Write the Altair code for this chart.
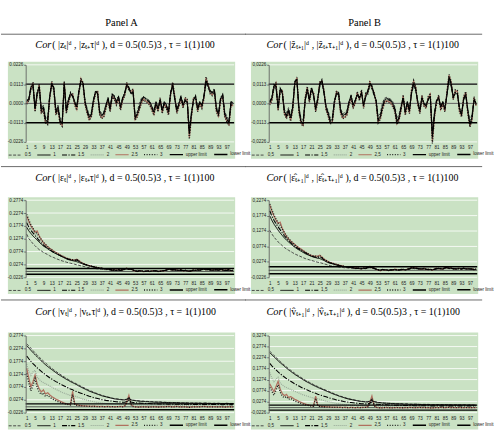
import altair as alt
import pandas as pd

LAGS = list(range(1, 101))
XTICKS = [1, 5, 9, 13, 17, 21, 25, 29, 33, 37, 41, 45, 49, 53, 57, 61, 65, 69, 73, 77, 81, 85, 89, 93, 97]
NAMES_A = ["0.5", "1", "1.5", "2", "2.5", "3", "upper limit", "lower limit"]
NAMES_B = ["0,5", "1", "1,5", "2", "2,5", "3", "upper limit", "lower limit"]
LIMITS = [0.0113, -0.0113]
YT_1 = [-0.0226, -0.0113, 0.0, 0.0113, 0.0226]
YT_2A = [-0.0226, 0.0274, 0.0774, 0.1274, 0.1774, 0.2274, 0.2774]
YT_2B = [-0.0226, 0.0274, 0.0774, 0.1274, 0.1774, 0.2274]
YT_3A = [-0.0226, 0.0274, 0.0774, 0.1274, 0.1774, 0.2274, 0.2774]
YT_3B = [-0.0226, 0.0274, 0.0774, 0.1274, 0.1774, 0.2274, 0.2774, 0.3274]

# ---------- Row 1, panel A (units 1e-4) ----------
A1_05 = [10, 30, 80, 95, -20, 50, 85, -30, -10, -80,
         -95, 30, 100, 80, -40, -10, -85, -100, 100, -30,
         25, 50, 40, 15, -10, 60, 120, 105, 15, -30,
         -70, -50, 25, 60, 55, -40, -60, -50, -5, 25,
         -20, 45, 35, 15, 35, -15, 25, 50, 95, 80,
         55, 60, -65, -50, 0, 30, 35, 30, 25, 15,
         -15, -40, 10, -25, 20, -30, 10, -5, -40, 50,
         95, 30, -30, 5, 35, -5, 20, 10, -145, -50,
         20, 35, -20, 10, -5, 35, 115, 90, 60, 55,
         70, -20, -50, 25, 45, -50, -75, -100, 10, 5]
A1_1 = [15, 25, 95, 110, -30, 60, 100, -40, -20, -95,
        -110, 40, 115, 90, -50, -20, -100, -120, 115, -40,
        20, 60, 45, 10, -20, 70, 135, 120, 10, -40,
        -80, -60, 20, 70, 60, -50, -70, -60, -10, 30,
        -30, 50, 40, 10, 40, -20, 30, 60, 110, 90,
        60, 70, -80, -60, -20, 20, 40, 30, 20, 10,
        -20, -50, 10, -30, 20, -40, 10, -10, -50, 60,
        110, 30, -40, 0, 40, -10, 20, 10, -170, -60,
        20, 40, -30, 10, -10, 40, 130, 100, 70, 60,
        80, -30, -60, 30, 50, -60, -90, -115, 10, 0]
A1_15 = [20, 20, 100, 105, -35, 65, 95, -45, -25, -100,
         -105, 45, 110, 95, -55, -25, -105, -115, 110, -45,
         15, 65, 40, 5, -25, 75, 130, 125, 5, -45,
         -85, -65, 15, 75, 55, -55, -75, -55, -15, 35,
         -35, 55, 45, 5, 45, -25, 35, 65, 105, 95,
         55, 65, -85, -65, -25, 15, 35, 25, 15, 5,
         -25, -55, 5, -35, 15, -45, 5, -15, -55, 65,
         105, 25, -45, -5, 45, -15, 15, 5, -180, -65,
         15, 45, -35, 5, -15, 45, 135, 105, 75, 65,
         85, -35, -65, 35, 55, -65, -95, -110, 5, -5]
A1_2 = [5, 25, 90, 115, -40, 55, 105, -50, -30, -105,
        -115, 35, 120, 85, -60, -30, -110, -125, 120, -50,
        10, 55, 50, 0, -30, 65, 140, 120, 0, -50,
        -90, -70, 10, 65, 65, -60, -80, -70, -20, 25,
        -40, 45, 35, 0, 35, -30, 25, 55, 115, 85,
        65, 75, -90, -70, -30, 10, 30, 20, 10, 0,
        -30, -60, 0, -40, 25, -50, 0, -20, -60, 55,
        115, 35, -50, -10, 35, -20, 25, 15, -190, -70,
        25, 35, -40, 5, -20, 35, 140, 105, 65, 55,
        75, -40, -70, 25, 45, -70, -100, -120, 0, -10]
A1_25 = [0, 20, 85, 120, -45, 50, 110, -55, -35, -110,
         -120, 30, 125, 80, -65, -35, -115, -130, 125, -55,
         5, 50, 55, -5, -35, 60, 145, 115, -5, -55,
         -95, -75, 5, 60, 70, -65, -85, -75, -25, 20,
         -45, 40, 30, -5, 30, -35, 20, 50, 120, 80,
         70, 80, -95, -75, -35, 5, 25, 15, 5, -5,
         -35, -65, -5, -45, 30, -55, -5, -25, -65, 50,
         120, 40, -55, -15, 30, -25, 30, 20, -200, -75,
         30, 30, -45, 0, -25, 30, 150, 110, 60, 50,
         70, -45, -75, 20, 40, -75, -105, -125, -5, -15]
A1_3 = [-5, 15, 80, 125, -50, 45, 115, -60, -40, -115,
        -125, 25, 130, 75, -70, -40, -120, -135, 130, -60,
        0, 45, 60, -10, -40, 55, 150, 110, -10, -60,
        -100, -80, 0, 55, 75, -70, -90, -80, -30, 15,
        -50, 35, 25, -10, 25, -40, 15, 45, 125, 75,
        75, 85, -100, -80, -40, 0, 20, 10, 0, -10,
        -40, -70, -10, -50, 35, -60, -10, -30, -70, 45,
        125, 45, -60, -20, 25, -30, 35, 25, -210, -80,
        35, 25, -50, -5, -30, 25, 155, 115, 55, 45,
        65, -50, -80, 15, 35, -80, -110, -130, -10, -20]

# ---------- Row 1, panel B (units 1e-4) ----------
B1_05 = [15, 35, 90, 85, -15, 75, 55, -35, -55, -25,
         -70, -10, 110, 120, -20, -90, -95, 20, 70, 25,
         80, 40, -20, 30, 95, 120, 55, -10, -45, -85,
         -80, 15, 50, 55, -30, -60, -55, -40, 10, 40,
         -5, 20, 45, 30, 55, -5, 35, 60, 95, 85,
         45, 25, -75, -60, 0, 30, 35, 30, 25, 10,
         -20, -85, -65, -10, 30, -40, 10, -30, 55, 100,
         70, 15, -30, 30, 5, -5, 20, 35, -160, -50,
         20, 30, -15, 10, -20, 45, 130, 95, 40, 55,
         50, -20, -50, 20, 45, -30, -100, -65, 20, 5]
B1_1 = [10, 35, 105, 95, -25, 85, 60, -45, -70, -35,
        -85, -20, 125, 135, -30, -105, -115, 20, 80, 25,
        90, 45, -30, 30, 110, 135, 60, -20, -55, -100,
        -95, 15, 55, 60, -40, -70, -65, -50, 10, 45,
        -10, 20, 50, 30, 60, -10, 40, 70, 110, 100,
        50, 20, -95, -75, -20, 20, 30, 25, 20, 0,
        -30, -105, -80, -20, 30, -50, 10, -40, 60, 115,
        80, 10, -40, 30, 0, -10, 20, 40, -190, -60,
        20, 30, -20, 10, -30, 50, 150, 110, 40, 60,
        55, -30, -60, 20, 50, -40, -120, -80, 20, 0]
B1_15 = [5, 30, 110, 100, -30, 90, 65, -50, -75, -40,
         -90, -25, 130, 140, -35, -110, -120, 15, 85, 20,
         95, 50, -35, 25, 115, 140, 65, -25, -60, -105,
         -100, 10, 60, 65, -45, -75, -70, -55, 5, 50,
         -15, 15, 55, 35, 65, -15, 45, 75, 115, 105,
         55, 15, -100, -80, -25, 15, 25, 20, 15, -5,
         -35, -110, -85, -25, 35, -55, 5, -45, 65, 120,
         85, 5, -45, 35, -5, -15, 25, 45, -200, -65,
         15, 35, -25, 5, -35, 55, 155, 115, 35, 65,
         60, -35, -65, 25, 55, -45, -125, -85, 25, -5]
B1_2 = [0, 25, 100, 110, -35, 80, 70, -55, -80, -45,
        -95, -30, 120, 145, -45, -110, -125, 25, 90, 15,
        85, 55, -40, 20, 120, 135, 70, -30, -65, -110,
        -105, 5, 65, 55, -50, -80, -75, -60, 0, 40,
        -20, 10, 60, 25, 70, -20, 50, 65, 120, 95,
        60, 10, -105, -85, -30, 10, 20, 15, 10, -10,
        -40, -115, -90, -30, 40, -60, 0, -50, 70, 125,
        90, 0, -50, 40, -10, -20, 30, 50, -210, -70,
        10, 40, -30, 0, -40, 60, 160, 120, 30, 70,
        65, -40, -70, 30, 60, -50, -130, -90, 30, -10]
B1_25 = [-5, 20, 95, 120, -40, 75, 75, -60, -85, -50,
         -100, -35, 115, 150, -50, -115, -130, 30, 95, 10,
         80, 60, -45, 15, 125, 130, 75, -35, -70, -115,
         -110, 0, 70, 50, -55, -85, -80, -65, -5, 35,
         -25, 5, 65, 20, 75, -25, 55, 60, 125, 90,
         65, 5, -110, -90, -35, 5, 15, 10, 5, -15,
         -45, -120, -95, -35, 45, -65, -5, -55, 75, 130,
         95, -5, -55, 45, -15, -25, 35, 55, -225, -75,
         5, 45, -35, -5, -45, 65, 165, 125, 25, 75,
         70, -45, -75, 35, 65, -55, -135, -95, 35, -15]
B1_3 = [-10, 15, 90, 125, -45, 70, 80, -65, -90, -55,
        -105, -40, 110, 155, -55, -120, -135, 35, 100, 5,
        75, 65, -50, 10, 130, 125, 80, -40, -75, -120,
        -115, -5, 75, 45, -60, -90, -85, -70, -10, 30,
        -30, 0, 70, 15, 80, -30, 60, 55, 130, 85,
        70, 0, -115, -95, -40, 0, 10, 5, 0, -20,
        -50, -125, -100, -40, 50, -70, -10, -60, 80, 135,
        100, -10, -60, 50, -20, -30, 40, 60, -235, -80,
        0, 50, -40, -10, -50, 70, 170, 130, 20, 80,
        75, -50, -80, 40, 70, -60, -140, -100, 40, -20]

# ---------- Row 2, panel A (units 1e-3) ----------
A2_05 = [145, 128, 118, 108, 100, 92, 85, 80, 74, 70,
         66, 61, 57, 54, 50, 47, 44, 41, 39, 36,
         34, 32, 30, 28, 26, 24, 22, 20, 18, 16,
         15, 13, 12, 11, 10, 9, 8, 7, 7, 6,
         5, 4, 5, 3, 5, 4, 6, 7, 9, 8,
         8, 5, 2, 1, 2, 1, 0, 1, 1, 0,
         1, 2, 1, 0, 1, 2, 2, 4, 7, 6,
         5, 6, 4, 3, 5, 3, 3, 2, 1, 2,
         4, 3, 5, 4, 7, 7, 6, 7, 5, 4,
         5, 6, 4, 6, 5, 3, 4, 5, 2, 3]
A2_1 = [172, 158, 148, 138, 130, 122, 114, 106, 99, 94,
        89, 83, 78, 73, 69, 65, 61, 57, 53, 49,
        46, 44, 42, 40, 38, 35, 32, 29, 26, 24,
        22, 20, 18, 16, 14, 13, 12, 11, 10, 9,
        7, 5, 6, 4, 6, 5, 7, 8, 11, 9,
        10, 6, 2, 1, 3, 2, 0, 1, 2, 0,
        1, 3, 2, 0, 1, 2, 3, 5, 9, 8,
        6, 7, 5, 4, 6, 3, 4, 2, 1, 3,
        5, 4, 6, 5, 8, 9, 7, 8, 6, 5,
        6, 7, 5, 8, 6, 4, 5, 6, 3, 4]
A2_15 = [190, 172, 160, 150, 140, 130, 120, 111, 103, 96,
         90, 84, 79, 74, 70, 66, 62, 58, 55, 51,
         48, 46, 44, 42, 45, 40, 34, 30, 27, 25,
         22, 20, 18, 16, 15, 13, 12, 11, 10, 9,
         8, 6, 5, 5, 7, 4, 6, 9, 12, 10,
         9, 5, 3, 0, 2, 3, 1, 0, 2, 1,
         2, 2, 3, 1, 0, 3, 4, 6, 10, 7,
         7, 6, 6, 3, 5, 4, 3, 3, 2, 2,
         6, 5, 5, 6, 7, 10, 8, 7, 7, 4,
         7, 6, 6, 7, 7, 5, 4, 7, 4, 3]
A2_2 = [205, 185, 170, 158, 148, 138, 126, 116, 107, 100,
        93, 87, 81, 76, 72, 67, 63, 59, 55, 51,
        48, 46, 44, 43, 46, 41, 35, 31, 28, 25,
        23, 21, 19, 17, 15, 13, 12, 11, 10, 9,
        6, 7, 6, 3, 5, 6, 8, 7, 10, 10,
        11, 7, 1, 2, 2, 1, -1, 2, 1, 1,
        0, 4, 1, 1, 2, 1, 2, 4, 8, 9,
        5, 8, 4, 5, 5, 4, 5, 1, 2, 4,
        4, 5, 7, 4, 9, 8, 8, 9, 5, 6,
        5, 8, 4, 9, 5, 5, 6, 5, 4, 5]
A2_25 = [215, 195, 178, 165, 152, 158, 138, 124, 112, 104,
         96, 90, 85, 79, 74, 70, 65, 60, 56, 52,
         49, 46, 45, 44, 48, 42, 36, 32, 28, 25,
         22, 20, 18, 16, 15, 13, 12, 11, 10, 9,
         9, 5, 7, 4, 7, 5, 6, 10, 13, 8,
         11, 4, 2, -1, 3, 2, -1, 0, 3, -1,
         2, 3, 2, -1, 2, 3, 2, 6, 11, 7,
         6, 7, 6, 3, 7, 2, 4, 3, 0, 2,
         6, 3, 6, 6, 9, 10, 6, 9, 6, 6,
         7, 6, 6, 8, 5, 5, 6, 7, 2, 5]
A2_3 = [222, 200, 182, 168, 155, 148, 136, 124, 114, 105,
        97, 90, 84, 78, 73, 68, 64, 60, 56, 52,
        49, 47, 46, 45, 47, 42, 36, 32, 28, 25,
        23, 21, 19, 17, 15, 14, 12, 11, 10, 9,
        8, 4, 7, 5, 6, 6, 7, 9, 12, 9,
        10, 6, 3, 0, 4, 1, 0, 1, 3, 0,
        2, 2, 3, 0, 1, 3, 3, 5, 10, 8,
        7, 6, 5, 4, 7, 3, 5, 2, 1, 3,
        5, 4, 7, 5, 8, 10, 7, 8, 7, 5,
        6, 7, 6, 8, 6, 5, 5, 6, 3, 4]

# ---------- Row 2, panel B (units 1e-3) ----------
B2_05 = [130, 118, 108, 100, 92, 86, 80, 74, 69, 65,
         61, 57, 53, 50, 47, 44, 41, 38, 36, 34,
         32, 30, 28, 26, 25, 23, 21, 19, 17, 15,
         14, 13, 12, 11, 10, 9, 8, 8, 7, 7,
         6, 5, 6, 5, 4, 6, 5, 7, 8, 7,
         5, 3, 1, 0, 1, 2, 1, 0, 1, 1,
         2, 1, 0, 1, 2, 1, 2, 3, 5, 6,
         4, 5, 3, 4, 4, 3, 2, 2, 1, 3,
         4, 5, 4, 3, 6, 7, 5, 6, 4, 3,
         4, 5, 3, 5, 4, 3, 4, 3, 2, 3]
B2_1 = [177, 162, 150, 140, 130, 121, 113, 105, 98, 92,
        86, 80, 75, 70, 66, 62, 58, 54, 51, 48,
        45, 43, 41, 39, 38, 35, 32, 28, 25, 23,
        21, 19, 17, 15, 14, 13, 12, 11, 10, 9,
        8, 6, 7, 6, 5, 7, 6, 8, 10, 9,
        6, 4, 1, 0, 2, 2, 1, -1, 1, 2,
        3, 1, 0, 2, 3, 1, 3, 4, 7, 8,
        6, 6, 4, 5, 5, 3, 2, 3, 1, 4,
        5, 6, 5, 4, 7, 9, 6, 7, 5, 4,
        5, 6, 4, 6, 5, 4, 5, 3, 2, 4]
B2_15 = [193, 175, 162, 151, 141, 131, 121, 112, 104, 97,
         90, 84, 78, 73, 69, 65, 61, 57, 53, 49,
         46, 44, 42, 41, 44, 40, 34, 30, 26, 24,
         22, 20, 18, 16, 14, 13, 12, 11, 10, 9,
         9, 7, 6, 7, 6, 6, 7, 9, 11, 8,
         7, 3, 2, -1, 3, 1, 2, 0, 2, 1,
         2, 2, 1, 3, 2, 2, 4, 5, 8, 7,
         7, 5, 5, 4, 6, 4, 3, 2, 2, 3,
         6, 5, 6, 5, 8, 8, 7, 6, 6, 5,
         6, 5, 5, 7, 4, 5, 4, 4, 3, 3]
B2_2 = [200, 182, 168, 156, 146, 136, 125, 115, 106, 99,
        92, 86, 80, 75, 70, 66, 62, 58, 54, 50,
        47, 45, 43, 42, 46, 42, 35, 31, 27, 25,
        22, 20, 18, 16, 15, 13, 12, 11, 10, 9,
        7, 8, 7, 5, 7, 5, 8, 7, 12, 10,
        5, 5, 0, 1, 1, 3, 0, 0, 0, 2,
        3, 0, 1, 2, 4, 0, 2, 5, 7, 9,
        5, 7, 3, 6, 4, 4, 3, 2, 0, 5,
        4, 7, 5, 5, 6, 10, 7, 8, 4, 6,
        4, 7, 3, 6, 6, 3, 6, 4, 3, 5]
B2_25 = [212, 192, 176, 163, 152, 156, 136, 122, 110, 102,
         95, 89, 84, 78, 73, 69, 64, 59, 55, 51,
         48, 46, 46, 45, 49, 43, 37, 32, 28, 25,
         23, 21, 19, 17, 15, 14, 12, 11, 10, 9,
         10, 6, 8, 5, 5, 8, 6, 10, 13, 8,
         8, 3, 1, -2, 2, 1, 0, -1, 2, 0,
         4, 2, 0, 3, 2, 2, 3, 6, 9, 7,
         8, 6, 4, 3, 7, 2, 3, 3, 0, 4,
         7, 5, 6, 4, 9, 9, 6, 8, 6, 4,
         6, 6, 5, 7, 5, 6, 5, 5, 2, 4]
B2_3 = [215, 196, 180, 166, 154, 146, 134, 122, 112, 104,
        96, 89, 83, 77, 72, 67, 63, 59, 55, 51,
        48, 47, 46, 45, 48, 42, 36, 32, 28, 25,
        23, 21, 19, 17, 15, 14, 12, 11, 10, 9,
        9, 7, 7, 6, 6, 7, 7, 9, 11, 9,
        7, 4, 2, 0, 2, 2, 1, 0, 1, 1,
        3, 1, 1, 2, 3, 1, 3, 5, 8, 8,
        7, 6, 4, 5, 6, 3, 3, 3, 1, 4,
        6, 6, 5, 5, 8, 9, 7, 7, 5, 5,
        5, 6, 4, 6, 5, 5, 5, 4, 2, 4]

# ---------- Row 3, panel A (units 1e-3) ----------
A3_05 = [245, 237, 228, 219, 210, 202, 193, 186, 178, 171,
         164, 157, 150, 144, 138, 132, 127, 121, 116, 111,
         106, 102, 97, 93, 89, 85, 80, 76, 72, 68,
         64, 61, 57, 54, 51, 48, 45, 42, 40, 38,
         36, 34, 32, 31, 30, 29, 28, 28, 30, 34,
         28, 26, 25, 24, 23, 22, 22, 21, 21, 20,
         20, 19, 19, 18, 19, 18, 18, 17, 17, 17,
         17, 16, 17, 16, 16, 15, 16, 15, 15, 15,
         15, 15, 14, 15, 14, 14, 15, 14, 14, 13,
         14, 13, 14, 13, 13, 13, 14, 13, 13, 13]
A3_1 = [238, 229, 220, 211, 203, 195, 187, 179, 171, 164,
        157, 151, 145, 139, 133, 127, 122, 117, 112, 107,
        103, 98, 94, 90, 86, 81, 77, 73, 69, 65,
        61, 58, 55, 52, 49, 46, 43, 41, 39, 37,
        35, 33, 31, 30, 29, 28, 27, 27, 29, 33,
        27, 25, 24, 23, 22, 21, 21, 20, 20, 19,
        19, 18, 18, 18, 18, 17, 17, 17, 16, 16,
        16, 16, 16, 15, 15, 15, 15, 15, 14, 14,
        14, 14, 14, 14, 13, 14, 14, 13, 13, 13,
        13, 13, 13, 13, 12, 13, 13, 12, 12, 12]
A3_15 = [198, 187, 177, 168, 160, 152, 145, 138, 131, 125,
         119, 113, 108, 103, 98, 94, 89, 85, 81, 77,
         73, 69, 66, 62, 59, 56, 53, 50, 47, 44,
         41, 39, 36, 34, 32, 30, 28, 27, 25, 24,
         23, 22, 21, 20, 19, 19, 18, 18, 21, 27,
         19, 17, 16, 15, 15, 14, 14, 13, 13, 13,
         12, 12, 12, 11, 11, 11, 11, 11, 10, 11,
         10, 10, 10, 10, 10, 9, 10, 10, 9, 9,
         9, 10, 9, 9, 9, 10, 9, 9, 9, 9,
         9, 9, 9, 9, 8, 9, 9, 8, 9, 8]
A3_2 = [166, 138, 122, 136, 142, 116, 106, 99, 94, 90,
        86, 81, 77, 72, 68, 64, 60, 56, 53, 50,
        47, 44, 46, 42, 39, 36, 33, 30, 28, 26,
        24, 22, 20, 18, 17, 16, 15, 14, 13, 12,
        11, 10, 10, 9, 9, 9, 10, 11, 16, 22,
        12, 9, 8, 7, 7, 6, 6, 6, 5, 5,
        5, 5, 5, 4, 5, 4, 5, 4, 4, 5,
        4, 5, 4, 4, 5, 4, 4, 4, 4, 3,
        4, 4, 3, 4, 4, 5, 4, 4, 4, 4,
        3, 4, 4, 3, 4, 3, 4, 3, 4, 3]
A3_25 = [150, 112, 78, 98, 124, 90, 70, 58, 66, 50,
         55, 47, 40, 35, 30, 26, 22, 18, 15, 12,
         10, 9, 60, 12, 8, 6, 5, 4, 4, 3,
         3, 2, 3, 2, 2, 1, 2, 1, 1, 2,
         1, 1, 0, 1, 1, 2, 1, 3, 20, 45,
         10, 2, 0, 0, -1, 0, 1, 0, 0, -1,
         0, 1, 0, -1, 0, 1, 0, 1, 2, 1,
         0, 1, 2, 1, 0, 0, 1, -1, -2, 0,
         1, 0, 1, 0, 1, 2, 1, 0, 1, 0,
         1, 0, 0, 1, 0, -1, 0, 1, 0, 0]
A3_3 = [130, 93, 62, 84, 110, 76, 57, 48, 54, 40,
        45, 38, 32, 28, 24, 20, 17, 14, 12, 10,
        8, 7, 48, 10, 6, 5, 4, 3, 3, 2,
        2, 1, 2, 1, 1, 1, 1, 0, 1, 1,
        0, 1, 0, 0, 1, 1, 0, 2, 16, 38,
        8, 1, 0, -1, -1, 0, 0, 0, -1, -1,
        0, 0, 0, -1, 0, 0, 0, 1, 1, 0,
        0, 0, 1, 0, 0, 0, 0, -1, -2, -1,
        0, 0, 0, 0, 1, 1, 0, 0, 0, 0,
        0, 0, 0, 0, 0, -1, 0, 0, 0, 0]

# ---------- Row 3, panel B (units 1e-3) ----------
B3_05 = [256, 247, 237, 228, 219, 210, 201, 193, 185, 177,
         170, 163, 156, 149, 143, 137, 131, 125, 120, 115,
         110, 105, 100, 96, 91, 87, 83, 79, 75, 71,
         67, 63, 59, 55, 52, 49, 46, 43, 40, 38,
         36, 34, 32, 30, 29, 28, 27, 27, 30, 36,
         28, 26, 24, 23, 22, 21, 21, 20, 20, 19,
         19, 18, 18, 18, 17, 17, 17, 16, 16, 16,
         16, 16, 15, 15, 15, 15, 15, 14, 14, 14,
         14, 14, 14, 14, 14, 13, 14, 13, 13, 13,
         13, 13, 13, 13, 13, 12, 13, 12, 12, 12]
B3_1 = [249, 240, 231, 222, 213, 204, 196, 188, 180, 172,
        165, 158, 151, 145, 139, 133, 127, 121, 116, 111,
        106, 101, 97, 92, 88, 84, 80, 76, 72, 68,
        64, 60, 57, 53, 50, 47, 44, 41, 39, 37,
        35, 33, 31, 29, 28, 27, 26, 26, 29, 34,
        27, 25, 23, 22, 21, 20, 20, 19, 19, 18,
        18, 17, 17, 17, 16, 16, 16, 15, 15, 15,
        15, 15, 14, 14, 14, 14, 14, 13, 13, 13,
        13, 13, 13, 13, 13, 12, 13, 12, 12, 12,
        12, 12, 12, 12, 12, 11, 12, 11, 11, 11]
B3_15 = [201, 190, 180, 171, 162, 154, 146, 139, 132, 126,
         120, 114, 108, 103, 98, 93, 88, 84, 80, 76,
         72, 68, 65, 61, 58, 55, 52, 49, 46, 43,
         40, 38, 35, 33, 31, 29, 27, 26, 24, 23,
         22, 21, 20, 19, 18, 18, 17, 17, 20, 26,
         18, 16, 15, 14, 14, 13, 13, 12, 12, 12,
         11, 11, 11, 10, 10, 10, 10, 10, 10, 9,
         9, 9, 9, 9, 9, 9, 9, 8, 8, 8,
         8, 9, 8, 8, 8, 9, 8, 8, 8, 8,
         8, 8, 8, 8, 7, 8, 8, 7, 8, 7]
B3_2 = [160, 134, 118, 130, 138, 112, 103, 96, 91, 87,
        83, 78, 74, 70, 66, 62, 58, 55, 52, 49,
        46, 43, 45, 41, 38, 35, 32, 29, 27, 25,
        23, 21, 19, 18, 16, 15, 14, 13, 12, 11,
        10, 10, 9, 9, 8, 8, 9, 10, 15, 21,
        11, 8, 7, 6, 6, 6, 5, 5, 5, 4,
        4, 4, 4, 4, 4, 4, 4, 4, 3, 4,
        4, 4, 3, 4, 4, 3, 4, 3, 3, 3,
        3, 4, 3, 3, 4, 4, 3, 4, 3, 3,
        3, 3, 4, 3, 3, 3, 3, 3, 3, 3]
B3_25 = [108, 90, 72, 96, 120, 84, 64, 55, 60, 46,
         50, 44, 38, 33, 28, 24, 20, 17, 14, 11,
         9, 8, 52, 11, 7, 6, 5, 4, 3, 3,
         2, 2, 2, 1, 2, 1, 1, 1, 0, 1,
         1, 0, 1, 0, 1, 1, 2, 4, 24, 53,
         12, 2, 0, -1, 0, 0, 1, 0, -1, 0,
         0, 1, 0, 0, -1, 1, 0, 1, 1, 0,
         0, 1, 1, 0, 1, 0, 0, -1, -1, 0,
         1, 0, 1, 1, 0, 1, 2, 0, 1, 0,
         0, 1, 0, 0, 1, 0, 0, 0, 1, 0]
B3_3 = [92, 74, 56, 80, 104, 70, 52, 45, 50, 38,
        42, 36, 30, 26, 22, 19, 16, 13, 11, 9,
        7, 6, 42, 9, 5, 4, 3, 3, 2, 2,
        1, 1, 2, 1, 1, 0, 1, 0, 0, 1,
        0, 0, 1, 0, 0, 1, 1, 2, 18, 42,
        9, 1, 0, -1, -1, 0, 0, 0, -1, -1,
        0, 0, 0, -1, 0, 0, 0, 1, 0, 0,
        0, 0, 1, 0, 0, 0, 0, -1, -1, 0,
        0, 0, 1, 0, 0, 1, 1, 0, 0, 0,
        0, 0, 0, 0, 0, 0, 0, 0, 0, 0]

# formula texts: italic "Cor" part and the rest
COR = "Cor"
F1A = "( |zₜ|ᵈ , |zₜ₊τ|ᵈ ),  d = 0.5(0.5)3 ,  τ = 1(1)100"
F1B = "( |ẑₜ₊₁|ᵈ , |ẑₜ₊τ₊₁|ᵈ ),  d = 0.5(0.5)3 ,  τ = 1(1)100"
F2A = "( |εₜ|ᵈ , |εₜ₊τ|ᵈ ),  d = 0.5(0.5)3 ,  τ = 1(1)100"
F2B = "( |ε̂ₜ₊₁|ᵈ , |ε̂ₜ₊τ₊₁|ᵈ ),  d = 0.5(0.5)3 ,  τ = 1(1)100"
F3A = "( |vₜ|ᵈ , |vₜ₊τ|ᵈ ),  d = 0.5(0.5)3 ,  τ = 1(1)100"
F3B = "( |v̂ₜ₊₁|ᵈ , |v̂ₜ₊τ₊₁|ᵈ ),  d = 0.5(0.5)3 ,  τ = 1(1)100"

# ---------- styles ----------
GREEN = "#cae2c4"
COLORS = ["#3a3a3a", "#000000", "#000000", "#98a898", "#b0705f", "#1a1a1a", "#000000", "#000000"]
DASHES = [[3, 1.5], [1, 0], [5, 1.5, 1.2, 1.5], [1, 1], [1, 0], [1, 1.6], [1, 0], [1, 0]]
WIDTHS = [0.9, 1.5, 1.5, 1.1, 1.0, 1.0, 1.4, 1.4]
DRAW_ORDER = [3, 4, 0, 5, 2, 1]
W, H = 211, 78
SANS = "Liberation Sans"
SERIF = "Liberation Serif"
FSIZE = 10


def panel(series, div, names, yticks, formula, comma, sep_y, f_y, sep_x, f_x, header=None, anchor=False):
    lim = pd.DataFrame({"s": names[6:], "v": LIMITS})

    if comma:
        lexpr = "replace(replace(format(datum.value, '.4f'), '.', ','), '\u2212', '-')"
    else:
        lexpr = "replace(format(datum.value, '.4f'), '\u2212', '-')"
    y = alt.Y("v:Q", title=None,
              scale=alt.Scale(domain=[yticks[0], yticks[-1]], nice=False, zero=False),
              axis=alt.Axis(values=yticks, labelExpr=lexpr, grid=False, domainColor="#555",
                            domainWidth=0.8, tickColor="#555", tickSize=2, tickWidth=0.8,
                            labelFontSize=4.6, labelFont=SANS, labelColor="#222",
                            labelPadding=1, labelFlush=False, labelOverlap=False, zindex=1))
    x = alt.X("lag:Q", title=None,
              scale=alt.Scale(domain=[0.5, 100.5], nice=False, zero=False),
              axis=alt.Axis(values=XTICKS, grid=False, domain=False, ticks=False,
                            labelFontSize=4.6, labelFont=SANS, labelColor="#222",
                            labelPadding=3, labelFlush=False, labelOverlap=False, zindex=1))
    leg = alt.Legend(title=None, orient="none", legendX=-18, legendY=H + 5,
                     direction="horizontal", columns=8, symbolType="stroke",
                     symbolSize=180, labelFontSize=4.6, labelFont=SANS, labelColor="#222",
                     columnPadding=3, labelOffset=2, padding=0, rowPadding=0)
    col = alt.Color("s:N", scale=alt.Scale(domain=names, range=COLORS), legend=leg)
    dsh = alt.StrokeDash("s:N", scale=alt.Scale(domain=names, range=DASHES), legend=leg)
    sw = alt.StrokeWidth("s:N", scale=alt.Scale(domain=names, range=WIDTHS), legend=leg)

    one = pd.DataFrame({"k": [0]})
    bg = alt.Chart(one).mark_rect(color=GREEN).encode(
        x=alt.value(-18), x2=alt.value(W + 1), y=alt.value(-3), y2=alt.value(H + 17))
    grid = alt.Chart(pd.DataFrame({"v": yticks})).mark_rule(color="white", strokeWidth=0.8).encode(y=y)
    zero = alt.Chart(pd.DataFrame({"v": [0.0]})).mark_rule(color="#333", strokeWidth=0.8).encode(y=y)
    layers_lines = []
    for i in DRAW_ORDER:
        sdf = pd.DataFrame({"lag": LAGS, "v": [val / div for val in series[i]], "s": names[i]})
        layers_lines.append(
            alt.Chart(sdf).mark_line(interpolate="linear").encode(
                x=x, y=y, color=col, strokeDash=dsh, strokeWidth=sw))
    lims = alt.Chart(lim).mark_rule().encode(y=y, color=col, strokeDash=dsh, strokeWidth=sw)
    cor = alt.Chart(pd.DataFrame({"t": [COR]})).mark_text(
        font=SERIF, fontSize=FSIZE + 0.5, fontStyle="italic", align="right", baseline="middle",
        color="#000").encode(x=alt.value(f_x), y=alt.value(f_y), text="t:N")
    ftxt = alt.Chart(pd.DataFrame({"t": [formula]})).mark_text(
        font=SERIF, fontSize=FSIZE, align="left", baseline="middle", color="#000").encode(
        x=alt.value(f_x + 1), y=alt.value(f_y), text="t:N")
    sep = alt.Chart(one).mark_rule(color="#6a6a6a", strokeWidth=1).encode(
        x=alt.value(sep_x[0]), x2=alt.value(sep_x[1]), y=alt.value(sep_y), y2=alt.value(sep_y))
    layers = [bg, grid, zero] + layers_lines + [lims, cor, ftxt, sep]
    if header is not None:
        htxt = alt.Chart(pd.DataFrame({"t": [header]})).mark_text(
            font=SERIF, fontSize=10.5, align="center", baseline="middle", color="#000").encode(
            x=alt.value(97), y=alt.value(-42), text="t:N")
        layers.append(htxt)
    if anchor:
        anc = alt.Chart(one).mark_rule(color="white", strokeWidth=0.5).encode(
            x=alt.value(-25), x2=alt.value(-25), y=alt.value(-62), y2=alt.value(-55))
        layers.append(anc)
    return alt.layer(*layers).properties(width=W, height=H)


SA = (-25, 223)
SB = (-24, 216)
p1a = panel([A1_05, A1_1, A1_15, A1_2, A1_25, A1_3], 10000, NAMES_A, YT_1, F1A, False, -31, -20, SA, 26, "Panel A", True)
p1b = panel([B1_05, B1_1, B1_15, B1_2, B1_25, B1_3], 10000, NAMES_B, YT_1, F1B, True, -31, -20, SB, 14, "Panel B")
p2a = panel([A2_05, A2_1, A2_15, A2_2, A2_25, A2_3], 1000, NAMES_A, YT_2A, F2A, False, -34, -22, SA, 26)
p2b = panel([B2_05, B2_1, B2_15, B2_2, B2_25, B2_3], 1000, NAMES_B, YT_2B, F2B, True, -34, -22, SB, 14)
p3a = panel([A3_05, A3_1, A3_15, A3_2, A3_25, A3_3], 1000, NAMES_A, YT_3A, F3A, False, -36, -24, SA, 26)
p3b = panel([B3_05, B3_1, B3_15, B3_2, B3_25, B3_3], 1000, NAMES_B, YT_3B, F3B, True, -36, -24, SB, 14)

chart = alt.concat(p1a, p1b, p2a, p2b, p3a, p3b, columns=2,
                   spacing={"row": 59, "column": 35}, bounds="flush").resolve_scale(
    x="independent", y="independent", color="independent",
    strokeDash="independent", strokeWidth="independent").resolve_legend(
    color="independent", strokeDash="independent", strokeWidth="independent").properties(
    padding=0, background="white").configure_view(stroke=None)

chart.save("out.html", embed_options={"renderer": "svg", "actions": False})
